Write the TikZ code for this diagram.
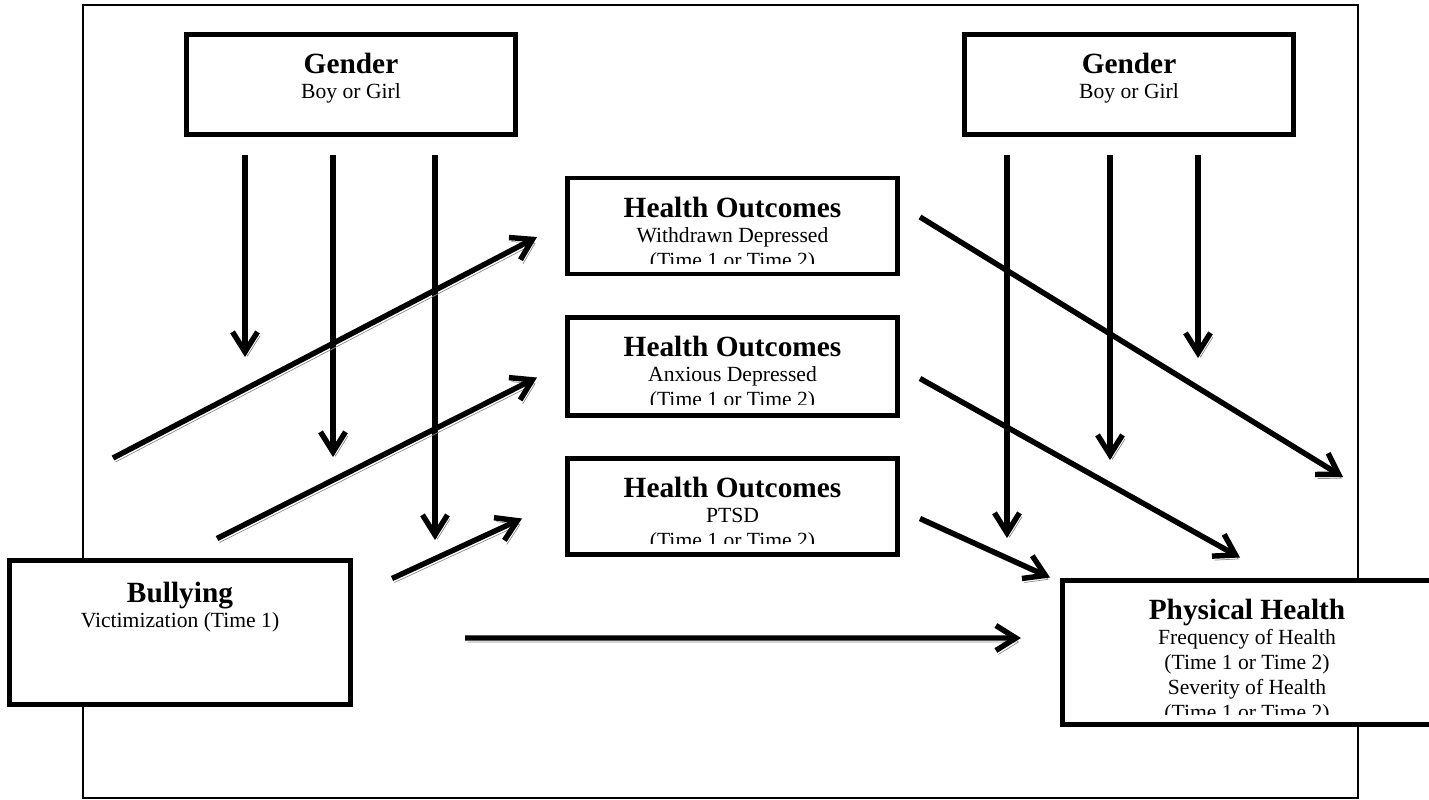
\documentclass[tikz,border=0pt]{standalone}
\usepackage{fontspec}
\setmainfont{Liberation Serif}
\usetikzlibrary{arrows.meta}

\newcommand\ttl[1]{{\fontsize{16.7}{20}\selectfont\bfseries #1}}
\newcommand\boxtext[3][21]{%
  \begin{scope}
    \clip ([shift={(3,3)}]#2.north west) rectangle ([shift={(-3,-13)}]#2.south east);
    \node[txt, anchor=north] (#2-t) at ([shift={(0,#1)}]#2.north) {#3};
  \end{scope}}

\tikzset{
  box/.style={draw, fill=white, line width=2.6pt, inner sep=0pt},
  txt/.style={align=center, inner sep=0pt, font=\fontsize{12.3}{14.2}\selectfont},
  arr/.style={line width=3.1pt, -{Straight Barb[length=0.4cm,width=0.5cm]},
    preaction={draw=black!45, transform canvas={shift={(0.05cm,-0.08cm)}}}},
}

\begin{document}
\begin{tikzpicture}[x=0.02cm, y=-0.02cm]
  \useasboundingbox (0,0) rectangle (1429,800);
  \draw[line width=0.9pt] (83,5) rectangle (1358,798);

  % boxes
  \node[box, minimum width=6.59cm, minimum height=2.01cm] (gl) at (351,84.5) {};
  \node[box, minimum width=6.59cm, minimum height=2.01cm] (gr) at (1129,84.5) {};
  \node[box, minimum width=6.61cm, minimum height=1.92cm] (ho1) at (732.5,226) {};
  \node[box, minimum width=6.61cm, minimum height=1.96cm] (ho2) at (732.5,366.5) {};
  \node[box, minimum width=6.61cm, minimum height=1.92cm] (ho3) at (732.5,506.5) {};
  \node[box, minimum width=6.83cm, minimum height=2.89cm] (bul) at (180,632.5) {};
  \node[box, minimum width=7.39cm, minimum height=2.89cm] (ph) at (1247,652.5) {};

  \boxtext{gl}{\ttl{Gender}\\Boy or Girl}
  \boxtext{gr}{\ttl{Gender}\\Boy or Girl}
  \boxtext{ho1}{\ttl{Health Outcomes}\\Withdrawn Depressed\\(Time 1 or Time 2)}
  \boxtext{ho2}{\ttl{Health Outcomes}\\Anxious Depressed\\(Time 1 or Time 2)}
  \boxtext{ho3}{\ttl{Health Outcomes}\\PTSD\\(Time 1 or Time 2)}
  \boxtext[24]{bul}{\ttl{Bullying}\\Victimization (Time 1)}
  \boxtext{ph}{\ttl{Physical Health}\\Frequency of Health\\(Time 1 or Time 2)\\Severity of Health\\(Time 1 or Time 2)}

  % gender arrows
  \foreach \dx/\len in {-106/202, -18/302, 84/385}
    \draw[arr] ([shift={(\dx,18)}]gl.south) -- ++(0,\len);
  \foreach \dx/\len in {-122/383, -19/305, 69/203}
    \draw[arr] ([shift={(\dx,18)}]gr.south) -- ++(0,\len);

  % bullying to outcomes
  \foreach \n/\sx/\sy/\ex/\ey in {ho1/-452/232/-28/11, ho2/-348/172/-28/11, ho3/-173/72/-43/12}
    \draw[arr] ([shift={(\sx,\sy)}]\n.west) -- ([shift={(\ex,\ey)}]\n.west);

  % outcomes to physical health
  \foreach \n/\sx/\sy/\ex/\ey in {ho1/20/-9/443/251, ho2/20/12/340/191, ho3/20/12/150/71}
    \draw[arr] ([shift={(\sx,\sy)}]\n.east) -- ([shift={(\ex,\ey)}]\n.east);

  \draw[arr] ([shift={(112,5.5)}]bul.east) -- ([shift={(-39,-14.5)}]ph.west);
\end{tikzpicture}
\end{document}
